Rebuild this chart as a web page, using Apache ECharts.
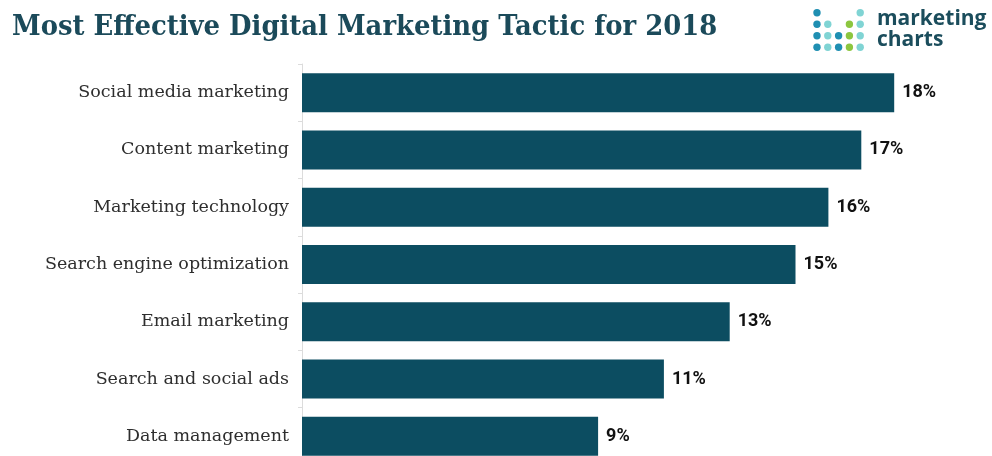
<!DOCTYPE html>
<html>
<head>
<meta charset="utf-8">
<script src="https://cdn.jsdelivr.net/npm/echarts@6/dist/echarts.min.js"></script>
<style>
  html, body { margin: 0; padding: 0; background: #ffffff; }
  #chart { width: 992px; height: 456px; }
</style>
</head>
<body>
<div id="chart"></div>
<script>
// Tactics and the share of marketers naming each as most effective (%)
const categories = [
  'Social media marketing',
  'Content marketing',
  'Marketing technology',
  'Search engine optimization',
  'Email marketing',
  'Search and social ads',
  'Data management'
];
const shares = [18, 17, 16, 15, 13, 11, 9];

const TITLE = 'Most Effective Digital Marketing Tactic for 2018';

const BAR = '#0c4d61';
const DOT_DARK = '#1f8fb2';
const DOT_LIGHT = '#80d4d4';
const DOT_GREEN = '#8cc63f';

// Brand mark: a small grid of dots (column, row, colour)
const logoDots = [
  [0, 0, DOT_DARK], [4, 0, DOT_LIGHT],
  [0, 1, DOT_DARK], [1, 1, DOT_LIGHT], [3, 1, DOT_GREEN], [4, 1, DOT_LIGHT],
  [0, 2, DOT_DARK], [1, 2, DOT_LIGHT], [2, 2, DOT_DARK], [3, 2, DOT_GREEN], [4, 2, DOT_LIGHT],
  [0, 3, DOT_DARK], [1, 3, DOT_LIGHT], [2, 3, DOT_DARK], [3, 3, DOT_GREEN], [4, 3, DOT_LIGHT]
];

const graphics = logoDots.map(([c, r, color]) => ({
  type: 'circle',
  shape: { cx: 817 + c * 10.8, cy: 12.7 + r * 11.5, r: 3.7 },
  style: { fill: color }
}));
graphics.push(
  {
    type: 'text', left: 877, top: 9,
    style: { text: 'marketing', font: 'bold 21px "Open Sans", sans-serif', fill: '#1b4d5c' }
  },
  {
    type: 'text', left: 877, top: 30,
    style: { text: 'charts', font: 'bold 21px "Open Sans", sans-serif', fill: '#1b4d5c' }
  },
  // Headline, slightly condensed horizontally
  {
    type: 'text', x: 12, y: 14, scaleX: 0.925,
    style: {
      text: TITLE,
      font: 'bold 28px "DejaVu Serif", serif',
      fill: '#1b4a5a'
    }
  }
);

const chart = echarts.init(document.getElementById('chart'), null, { renderer: 'canvas' });
chart.setOption({
  backgroundColor: '#ffffff',
  animation: false,
  graphic: graphics,
  // The last row runs slightly past the bottom edge
  grid: {
    left: 302, top: 64, bottom: -9, right: 32,
    containLabel: false,
    outerBoundsMode: 'none'
  },
  xAxis: {
    type: 'value', min: 0, max: 20,
    show: false
  },
  yAxis: {
    type: 'category',
    data: categories,
    inverse: true,
    axisLine: { show: true, lineStyle: { color: '#dcdcdc', width: 1 } },
    axisTick: { show: true, length: 4, lineStyle: { color: '#dcdcdc' } },
    axisLabel: {
      margin: 13,
      fontFamily: '"DejaVu Serif", serif',
      fontSize: 17.5,
      color: '#2e2e2e'
    }
  },
  series: [{
    type: 'bar',
    data: shares,
    barWidth: 39,
    itemStyle: { color: BAR },
    label: {
      show: true,
      position: 'right',
      distance: 8,
      formatter: '{c}%',
      fontFamily: 'Roboto, sans-serif',
      fontWeight: 'bold',
      fontSize: 18,
      color: '#111111'
    }
  }]
});
</script>
</body>
</html>
